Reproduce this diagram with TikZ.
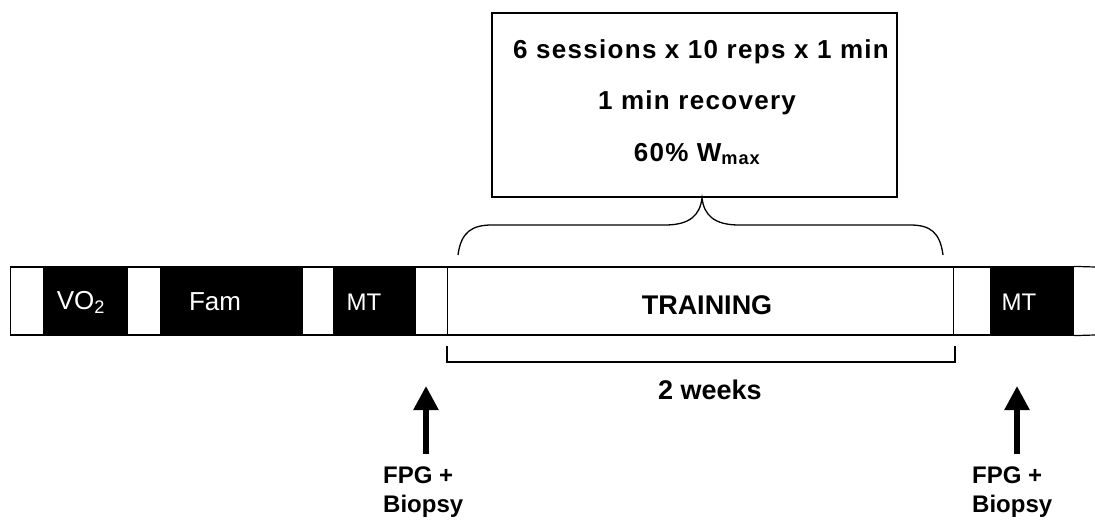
\documentclass[tikz,border=0pt]{standalone}
\usepackage{fontspec}
\setmainfont{Liberation Sans}
\usetikzlibrary{arrows.meta}
\tikzset{
  seg/.style={draw=black, line width=1.2pt, inner sep=0pt, minimum height=68pt, anchor=west},
  wseg/.style={seg, fill=white},
  bseg/.style={seg, fill=black},
  blabel/.style={text=white, font=\fontsize{26}{30}\selectfont, inner sep=0pt},
  toptext/.style={font=\fontsize{26}{30}\selectfont\bfseries\addfontfeature{LetterSpace=5}, inner sep=0pt},
  lbl/.style={font=\fontsize{27}{30}\selectfont\bfseries, inner sep=0pt},
  uparrow/.style={line width=5.5pt, -{Triangle[width=24pt,length=24pt]}},
}
\begin{document}
\begin{tikzpicture}[x=1pt,y=-1pt]
\useasboundingbox (0,0) rectangle (1095,521);
% top box
\node[draw, line width=1.2pt, minimum width=405pt, minimum height=184pt, inner sep=0pt] (box) at (694.5,105) {};
\node[toptext] (t1) at (701,52) {6 sessions x 10 reps x 1 min};
\node[toptext] (t2) at (697,103) {1 min recovery};
\node[toptext] (t3) at (697,154) {60\% W\textsubscript{max}};
% brace
\coordinate (bl) at (458,255);
\coordinate (bt) at (702,198);
\coordinate (br) at (943,255);
\draw[line width=1.3pt] (bl) .. controls (461,232) and (472,225) .. (492,225) -- (665,225) .. controls (690,225) and (700,215) .. (bt)
  .. controls (704,215) and (714,225) .. (739,225) -- (910,225) .. controls (930,225) and (940,232) .. (br);
% bar
\node[wseg, minimum width=33pt] (w1) at (10,301) {};
\node[bseg, minimum width=84pt] (vo2) at (43,301) {};
\node[wseg, minimum width=33pt] (w2) at (127,301) {};
\node[bseg, minimum width=142pt] (fam) at (160,301) {};
\node[wseg, minimum width=31pt] (w3) at (302,301) {};
\node[bseg, minimum width=82pt] (mt1) at (333,301) {};
\node[wseg, minimum width=32pt] (w4) at (415,301) {};
\node[wseg, minimum width=506pt] (train) at (447,301) {};
\node[wseg, minimum width=37pt] (w5) at (953,301) {};
\node[bseg, minimum width=83pt] (mt2) at (990,301) {};
\draw[line width=1.2pt] (mt2.north east) -- (1095,267) (mt2.south east) -- (1095,335);
\node[blabel] at (81,302) {VO\textsubscript{2}};
\node[blabel] at (215,302) {Fam};
\node[blabel, font=\fontsize{24}{30}\selectfont] at (364,302) {MT};
\node[blabel, font=\fontsize{24}{30}\selectfont] at (1019,302) {MT};
\node[font=\fontsize{27}{30}\selectfont\bfseries, inner sep=0pt] (trl) at (707,305) {TRAINING};
% bracket
\draw[line width=1.3pt] (447,346) -- (447,362) -- (955,362) -- (955,346);
\node[lbl] (weeks) at (710,390) {2 weeks};
% arrows
\coordinate (a1s) at (426,454);
\coordinate (a1e) at (426,386);
\coordinate (a2s) at (1017,454);
\coordinate (a2e) at (1017,386);
\draw[uparrow] (a1s) -- (a1e);
\draw[uparrow] (a2s) -- (a2e);
\node[lbl, align=left, anchor=north west, font=\fontsize{24}{29}\selectfont\bfseries] (f1) at (383,467) {FPG +\\Biopsy};
\node[lbl, align=left, anchor=north west, font=\fontsize{24}{29}\selectfont\bfseries] (f2) at (972,467) {FPG +\\Biopsy};
\end{tikzpicture}
\end{document}
